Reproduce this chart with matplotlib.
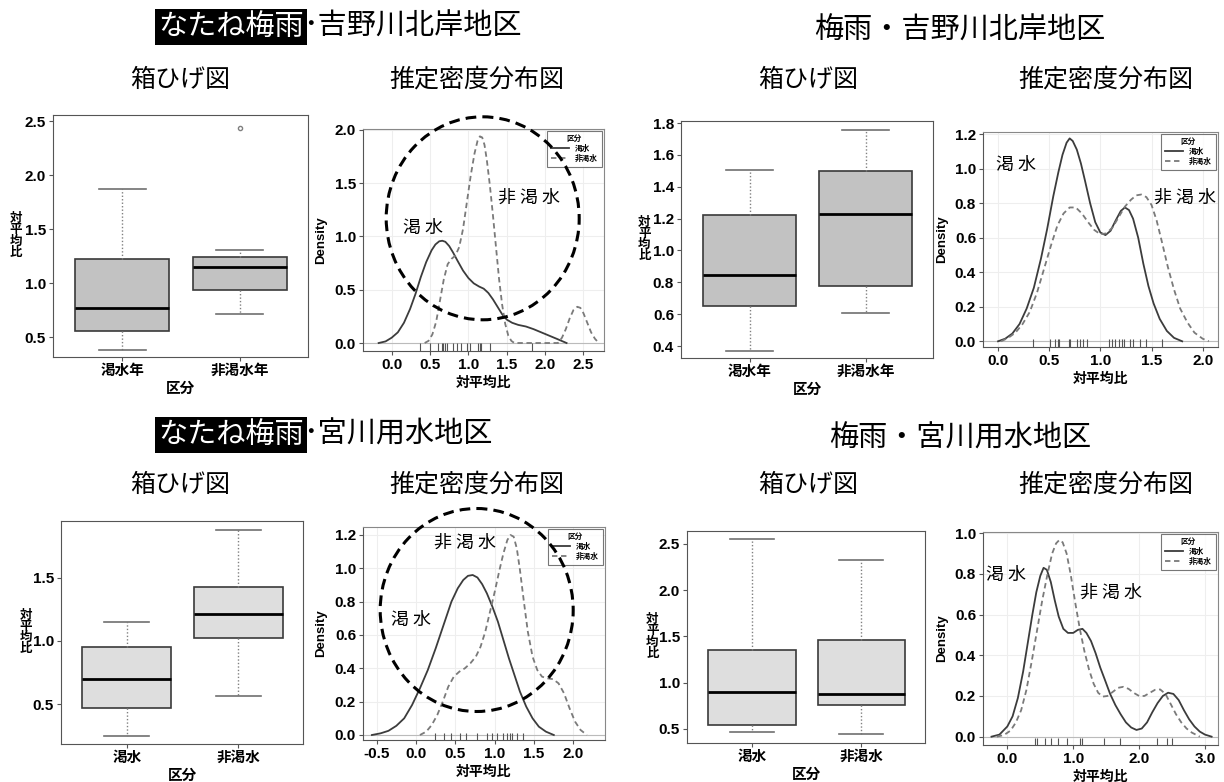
import numpy as np
import matplotlib
matplotlib.use('Agg')
import matplotlib.pyplot as plt
from matplotlib.patches import Ellipse
from matplotlib.ticker import FormatStrFormatter

plt.rcParams['font.family'] = ['Liberation Sans', 'Noto Sans CJK JP', 'DejaVu Sans']
plt.rcParams['font.weight'] = 'bold'
plt.rcParams['axes.labelweight'] = 'bold'

W, H = 1224, 782
JP = 'Noto Sans CJK JP'

# ---------------- values ----------------
districts = ['吉野川北岸地区', '宮川用水地区']
season_hl = 'なたね梅雨'
season = '梅雨'
sub_box = '箱ひげ図'
sub_dens = '推定密度分布図'
cat_year = ['渇水年', '非渇水年']
cat_short = ['渇水', '非渇水']
leg_title = '区分'
leg_labels = ['渇水', '非渇水']

# box stats: [whisker low, q1, median, q3, whisker high]
box_a = [[0.38, 0.56, 0.77, 1.22, 1.87], [0.71, 0.94, 1.15, 1.24, 1.31]]
flier_a = [[], [2.44]]
box_b = [[0.37, 0.65, 0.845, 1.225, 1.505], [0.61, 0.78, 1.23, 1.50, 1.755]]
box_c = [[0.25, 0.468, 0.697, 0.955, 1.146], [0.565, 1.02, 1.21, 1.426, 1.872]]
box_d = [[0.463, 0.539, 0.902, 1.355, 2.553], [0.439, 0.762, 0.881, 1.456, 2.326]]
no_fliers = [[], []]

# density curves (x, y) for 渇水 (dry) and 非渇水 (non-dry), plus rug values
a_dry_x = [-0.17, -0.08, 0.0, 0.08, 0.16, 0.24, 0.31, 0.38, 0.45, 0.52, 0.57, 0.62, 0.66, 0.7, 0.75, 0.8, 0.86, 0.93, 1.0, 1.07,
           1.14, 1.2, 1.26, 1.32, 1.38, 1.44, 1.5, 1.57, 1.65, 1.75, 1.85, 1.95, 2.05, 2.15, 2.28]
a_dry_y = [0.0, 0.015, 0.05, 0.1, 0.19, 0.32, 0.46, 0.62, 0.76, 0.87, 0.925, 0.955, 0.96, 0.95, 0.91, 0.85, 0.77, 0.68, 0.61, 0.56,
           0.53, 0.51, 0.47, 0.41, 0.34, 0.27, 0.22, 0.19, 0.17, 0.155, 0.13, 0.1, 0.07, 0.04, 0.0]
a_wet_x = [0.43, 0.48, 0.53, 0.58, 0.63, 0.68, 0.73, 0.78, 0.83, 0.88, 0.93, 0.98, 1.03, 1.08, 1.12, 1.15, 1.18, 1.21, 1.24, 1.28,
           1.32, 1.36, 1.4, 1.44, 1.48, 1.52, 1.56, 1.6, 2.17, 2.22, 2.27, 2.32, 2.37, 2.42, 2.46, 2.5, 2.55, 2.6, 2.65, 2.7]
a_wet_y = [0.0, 0.02, 0.08, 0.2, 0.4, 0.6, 0.74, 0.79, 0.82, 0.9, 1.07, 1.32, 1.57, 1.78, 1.9, 1.94, 1.93, 1.86, 1.72, 1.48,
           1.2, 0.9, 0.6, 0.36, 0.18, 0.07, 0.02, 0.0, 0.0, 0.05, 0.13, 0.23, 0.31, 0.34, 0.33, 0.28, 0.19, 0.1, 0.04, 0.0]
a_rug = [0.37, 0.5, 0.61, 0.65, 0.67, 0.7, 0.72, 0.8, 0.85, 0.91, 0.98, 1.02, 1.13, 1.15, 1.17, 1.28, 1.83]

b_dry_x = [0.0, 0.07, 0.14, 0.21, 0.28, 0.35, 0.42, 0.48, 0.54, 0.59, 0.63, 0.67, 0.7, 0.73, 0.77, 0.81, 0.85, 0.9, 0.95, 1.0,
           1.05, 1.1, 1.15, 1.2, 1.24, 1.28, 1.32, 1.37, 1.42, 1.47, 1.52, 1.58, 1.65, 1.72, 1.8]
b_dry_y = [0.0, 0.015, 0.045, 0.1, 0.19, 0.31, 0.48, 0.65, 0.84, 0.98, 1.08, 1.15, 1.175, 1.16, 1.11, 1.03, 0.93, 0.8, 0.69, 0.63,
           0.615, 0.64, 0.7, 0.755, 0.775, 0.76, 0.71, 0.6, 0.45, 0.32, 0.22, 0.13, 0.06, 0.02, 0.0]
b_wet_x = [0.03, 0.1, 0.17, 0.24, 0.31, 0.38, 0.45, 0.52, 0.58, 0.64, 0.7, 0.76, 0.82, 0.88, 0.94, 1.0, 1.06, 1.12, 1.18, 1.24,
           1.3, 1.35, 1.4, 1.45, 1.5, 1.55, 1.6, 1.66, 1.72, 1.78, 1.85, 1.92, 2.0, 2.06]
b_wet_y = [0.0, 0.02, 0.05, 0.1, 0.17, 0.28, 0.42, 0.56, 0.67, 0.74, 0.775, 0.775, 0.74, 0.69, 0.645, 0.62, 0.625, 0.66, 0.72, 0.78,
           0.82, 0.845, 0.85, 0.835, 0.79, 0.7, 0.58, 0.43, 0.3, 0.19, 0.11, 0.05, 0.015, 0.0]
b_rug = [0.34, 0.51, 0.56, 0.59, 0.6, 0.69, 0.7, 0.77, 0.8, 0.83, 0.87, 1.08, 1.11, 1.14, 1.18, 1.21, 1.23, 1.29, 1.32, 1.39, 1.45, 1.6]

c_dry_x = [-0.56, -0.45, -0.35, -0.25, -0.15, -0.05, 0.05, 0.15, 0.25, 0.35, 0.45, 0.53, 0.6, 0.66, 0.72, 0.78, 0.84, 0.9, 0.97, 1.04,
           1.11, 1.18, 1.25, 1.32, 1.4, 1.48, 1.56, 1.65, 1.75]
c_dry_y = [0.0, 0.01, 0.025, 0.055, 0.1, 0.18, 0.28, 0.39, 0.52, 0.66, 0.8, 0.88, 0.93, 0.955, 0.96, 0.945, 0.905, 0.85, 0.77, 0.68,
           0.57, 0.46, 0.36, 0.26, 0.17, 0.1, 0.05, 0.02, 0.0]
c_wet_x = [0.05, 0.13, 0.2, 0.27, 0.34, 0.41, 0.48, 0.55, 0.62, 0.69, 0.76, 0.82, 0.88, 0.94, 1.0, 1.06, 1.11, 1.16, 1.2, 1.24,
           1.28, 1.32, 1.37, 1.42, 1.48, 1.54, 1.6, 1.67, 1.74, 1.81, 1.88, 1.95, 2.02, 2.09, 2.17]
c_wet_y = [0.0, 0.02, 0.06, 0.12, 0.2, 0.29, 0.35, 0.38, 0.4, 0.43, 0.47, 0.53, 0.62, 0.74, 0.86, 0.99, 1.09, 1.17, 1.2, 1.19,
           1.12, 0.99, 0.8, 0.62, 0.47, 0.39, 0.35, 0.34, 0.335, 0.31, 0.25, 0.16, 0.08, 0.03, 0.0]
c_rug = [0.24, 0.35, 0.45, 0.56, 0.64, 0.77, 0.9, 0.96, 1.03, 1.11, 1.15, 1.19, 1.22, 1.28, 1.36]

d_dry_x = [-0.24, -0.12, 0.0, 0.08, 0.16, 0.24, 0.31, 0.38, 0.44, 0.5, 0.55, 0.6, 0.66, 0.72, 0.78, 0.85, 0.92, 1.0, 1.07, 1.14,
           1.2, 1.27, 1.34, 1.41, 1.48, 1.56, 1.64, 1.72, 1.8, 1.88, 1.96, 2.04, 2.12, 2.2, 2.28, 2.36, 2.44, 2.52, 2.6, 2.68,
           2.76, 2.84, 2.92, 3.0, 3.1]
d_dry_y = [0.0, 0.01, 0.05, 0.1, 0.19, 0.32, 0.46, 0.6, 0.71, 0.79, 0.83, 0.82, 0.76, 0.67, 0.59, 0.53, 0.51, 0.51, 0.525, 0.53,
           0.51, 0.47, 0.41, 0.34, 0.28, 0.21, 0.155, 0.11, 0.07, 0.045, 0.033, 0.04, 0.07, 0.12, 0.165, 0.2, 0.216, 0.21, 0.18, 0.13,
           0.085, 0.05, 0.025, 0.01, 0.0]
d_wet_x = [-0.16, -0.05, 0.05, 0.13, 0.21, 0.29, 0.37, 0.45, 0.53, 0.61, 0.68, 0.74, 0.79, 0.84, 0.9, 0.96, 1.03, 1.1, 1.17, 1.24,
           1.31, 1.38, 1.45, 1.52, 1.6, 1.68, 1.76, 1.84, 1.92, 2.0, 2.08, 2.16, 2.24, 2.32, 2.4, 2.48, 2.56, 2.64, 2.72, 2.8, 2.92]
d_wet_y = [0.0, 0.008, 0.03, 0.07, 0.13, 0.23, 0.37, 0.52, 0.67, 0.8, 0.9, 0.95, 0.967, 0.955, 0.9, 0.8, 0.66, 0.53, 0.42, 0.33,
           0.26, 0.215, 0.197, 0.2, 0.22, 0.24, 0.245, 0.235, 0.215, 0.2, 0.2, 0.215, 0.23, 0.232, 0.21, 0.16, 0.11, 0.07, 0.04, 0.02, 0.0]
d_rug = [0.42, 0.45, 0.57, 0.67, 0.77, 0.9, 1.1, 1.13, 1.46, 1.71, 2.27, 2.42, 2.5]

fig = plt.figure(figsize=(W / 100, H / 100), dpi=100)


def add_px(x0, y0, x1, y1):
    # axes placed by pixel box (top-left origin)
    return fig.add_axes([x0 / W, 1 - y1 / H, (x1 - x0) / W, (y1 - y0) / H])


def box_panel(rect, stats, fliers, cats, face, ylim, yticks):
    ax = add_px(*rect)
    bs = [dict(whislo=s[0], q1=s[1], med=s[2], q3=s[3], whishi=s[4], fliers=f)
          for s, f in zip(stats, fliers)]
    ax.bxp(bs, positions=[1, 2], widths=0.8, capwidths=0.4, patch_artist=True,
           boxprops=dict(facecolor=face, edgecolor='#3a3a3a', linewidth=1.2),
           medianprops=dict(color='black', linewidth=2),
           whiskerprops=dict(color='#808080', linestyle=(0, (1, 1.5)), linewidth=1),
           capprops=dict(color='#707070', linewidth=1.2),
           flierprops=dict(marker='o', markersize=3, markerfacecolor='none', markeredgecolor='#808080'))
    ax.set_xlim(0.41, 2.58)
    ax.set_ylim(*ylim)
    ax.set_yticks(yticks)
    ax.yaxis.set_major_formatter(FormatStrFormatter('%.1f'))
    ax.set_xticks([1, 2], cats)
    ax.set_xlabel('区分', fontsize=10.5, labelpad=3)
    ax.text(-0.145, 0.5, '対\n平\n均\n比', transform=ax.transAxes, rotation=0, fontsize=9,
            linespacing=0.9, va='center', ha='center')
    for s in ax.spines.values():
        s.set_color('#555555')
    ax.tick_params(length=3, width=0.8, color='#555555', labelsize=11, pad=2)
    ax.tick_params(axis='x', labelsize=10.5)
    return ax


def dens_panel(rect, xd, yd, xn, yn, rug, xlim, ylim, xticks, yticks):
    ax = add_px(*rect)
    ax.grid(True, color='#eeeeee', linewidth=0.8)
    ax.set_axisbelow(True)
    ax.axhline(0, color='#bbbbbb', linewidth=0.8, zorder=1)
    ax.plot(xd, yd, color='#3c3c3c', linewidth=1.3, label=leg_labels[0])
    ax.plot(xn, yn, color='#7a7a7a', linewidth=1.3, linestyle=(0, (3, 2)), label=leg_labels[1])
    ax.vlines(rug, 0, 0.035, transform=ax.get_xaxis_transform(), color='#555555', linewidth=0.8)
    ax.set_xlim(*xlim)
    ax.set_ylim(*ylim)
    ax.set_xticks(xticks)
    ax.set_yticks(yticks)
    ax.xaxis.set_major_formatter(FormatStrFormatter('%.1f'))
    ax.yaxis.set_major_formatter(FormatStrFormatter('%.1f'))
    ax.set_xlabel('対平均比', fontsize=10, labelpad=3)
    ax.set_ylabel('Density', fontsize=9.5)
    ax.yaxis.set_label_coords(-0.15, 0.5)
    for s in ax.spines.values():
        s.set_color('#888888')
    ax.spines['bottom'].set_color('#555555')
    ax.spines['left'].set_color('#555555')
    ax.tick_params(length=3, width=0.8, color='#555555', labelsize=11, pad=2)
    leg = ax.legend(title=leg_title, loc='upper right', fontsize=5.5, title_fontsize=5.5,
                    frameon=True, fancybox=False, edgecolor='#555555', borderpad=0.5,
                    handlelength=2.4, labelspacing=0.25, borderaxespad=0.3)
    leg.get_frame().set_linewidth(0.8)
    return ax


# top row
box_panel((53, 115, 308, 357), box_a, flier_a, cat_year, '#c2c2c2', (0.315, 2.556), [0.5, 1.0, 1.5, 2.0, 2.5])
dens_panel((363, 129, 604, 351), a_dry_x, a_dry_y, a_wet_x, a_wet_y, a_rug,
           (-0.374, 2.768), (-0.075, 2.009), [0, 0.5, 1, 1.5, 2, 2.5], [0, 0.5, 1, 1.5, 2])
box_panel((681, 121, 933, 358), box_b, no_fliers, cat_year, '#c2c2c2', (0.325, 1.813), [0.4, 0.6, 0.8, 1.0, 1.2, 1.4, 1.6, 1.8])
dens_panel((983, 132, 1218, 347), b_dry_x, b_dry_y, b_wet_x, b_wet_y, b_rug,
           (-0.147, 2.15), (-0.033, 1.212), [0, 0.5, 1, 1.5, 2], [0, 0.2, 0.4, 0.6, 0.8, 1.0, 1.2])

# bottom row
box_panel((61, 521, 303, 744), box_c, no_fliers, cat_short, '#dedede', (0.1875, 1.946), [0.5, 1.0, 1.5])
dens_panel((363, 527, 605, 740), c_dry_x, c_dry_y, c_wet_x, c_wet_y, c_rug,
           (-0.673, 2.40), (-0.03, 1.248), [-0.5, 0, 0.5, 1, 1.5, 2], [0, 0.2, 0.4, 0.6, 0.8, 1.0, 1.2])
box_panel((687, 531, 925, 743), box_d, no_fliers, cat_short, '#dedede', (0.346, 2.64), [0.5, 1.0, 1.5, 2.0, 2.5])
dens_panel((983, 532, 1218, 745), d_dry_x, d_dry_y, d_wet_x, d_wet_y, d_rug,
           (-0.369, 3.197), (-0.041, 1.006), [0, 1, 2, 3], [0, 0.2, 0.4, 0.6, 0.8, 1.0])

# overlay for titles, circles and in-plot notes (pixel coordinates)
ov = fig.add_axes([0, 0, 1, 1])
ov.set_xlim(0, W)
ov.set_ylim(H, 0)
ov.axis('off')

tkw = dict(family=JP, weight='normal', va='center')
for row, (ty, sy) in enumerate([(27, 80), (435, 485)]):
    t = ov.text(158, ty, season_hl, color='white', fontsize=21, ha='left',
                bbox=dict(boxstyle='square,pad=0.1', fc='black', ec='none'), **tkw)
    ov.annotate('･' + districts[row], xy=(1, 0.5), xycoords=t, ha='left', fontsize=21, **tkw)
    ov.text(960, ty + 4, season + '・' + districts[row], ha='center', fontsize=21, **tkw)
    ov.text(180, sy, sub_box, ha='center', fontsize=18, **tkw)
    ov.text(477, sy, sub_dens, ha='center', fontsize=18, **tkw)
    ov.text(808, sy, sub_box, ha='center', fontsize=18, **tkw)
    ov.text(1106, sy, sub_dens, ha='center', fontsize=18, **tkw)

for c in [(482.7, 218.3), (476.7, 610.0)]:
    ov.add_patch(Ellipse(c, 193, 203, fill=False, edgecolor='black', linewidth=2.2, linestyle=(0, (3.5, 2))))

notes = [(423, 228, '渇 水'), (529, 198, '非 渇 水'),
         (1016, 165, '渇 水'), (1185, 198, '非 渇 水'),
         (411, 620, '渇 水'), (465, 543, '非 渇 水'),
         (1006, 575, '渇 水'), (1111, 593, '非 渇 水')]
for x, y, s in notes:
    ov.text(x, y, s, ha='center', fontsize=13, **tkw)

fig.savefig('out.png', dpi=100)
